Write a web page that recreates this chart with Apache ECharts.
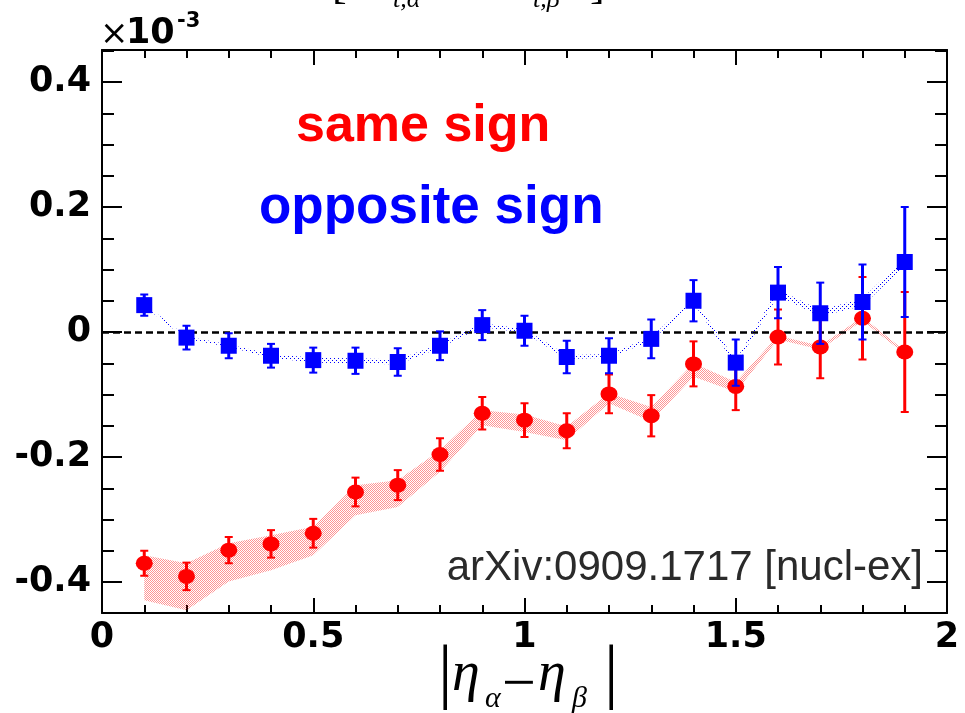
<!DOCTYPE html>
<html>
<head>
<meta charset="utf-8">
<script src="https://cdn.jsdelivr.net/npm/echarts@6/dist/echarts.min.js"></script>
<style>
html,body{margin:0;padding:0;background:#fff;}
#main{width:965px;height:713px;}
</style>
</head>
<body>
<div id="main"></div>
<script>
// ---- data (values in units of 1e-3) ----
const xs = [0.1,0.2,0.3,0.4,0.5,0.6,0.7,0.8,0.9,1.0,1.1,1.2,1.3,1.4,1.5,1.6,1.7,1.8,1.9];
const oppositeVals = [0.043,-0.009,-0.022,-0.038,-0.045,-0.046,-0.048,-0.022,0.011,0.002,-0.040,-0.038,-0.011,0.050,-0.049,0.063,0.030,0.048,0.112];
const oppositeErr  = [0.017,0.019,0.020,0.019,0.020,0.021,0.022,0.023,0.024,0.024,0.026,0.028,0.031,0.033,0.037,0.041,0.049,0.060,0.088];
const oppositeSys  = [0.002,0.002,0.002,0.003,0.004,0.004,0.004,0.003,0.003,0.003,0.003,0.003,0.003,0.004,0.004,0.005,0.005,0.006,0.006];
const sameVals = [-0.370,-0.391,-0.349,-0.339,-0.322,-0.256,-0.245,-0.196,-0.130,-0.141,-0.158,-0.099,-0.134,-0.051,-0.087,-0.008,-0.024,0.022,-0.032];
const sameErr  = [0.020,0.022,0.021,0.022,0.023,0.023,0.024,0.026,0.026,0.027,0.028,0.031,0.033,0.036,0.038,0.044,0.050,0.066,0.096];
const sameSysLo = [-0.429,-0.445,-0.399,-0.381,-0.357,-0.293,-0.280,-0.2235,-0.149,-0.160,-0.173,-0.114,-0.143,-0.0715,-0.0955,-0.012,-0.028,0.018,-0.035];
const sameSysHi = [-0.357,-0.370,-0.338,-0.325,-0.3115,-0.245,-0.237,-0.189,-0.125,-0.132,-0.151,-0.098,-0.120,-0.050,-0.080,-0.006,-0.022,0.024,-0.030];
const yMajorTicks = [-0.4,-0.2,0,0.2,0.4];
const yMinorTicks = [-0.45,-0.35,-0.3,-0.25,-0.15,-0.1,-0.05,0.05,0.1,0.15,0.25,0.3,0.35,0.45];
const yMin = -0.4496, yMax = 0.4512;

function makePattern(color, pts, size){
  const c = document.createElement('canvas');
  c.width = size; c.height = size;
  const ctx = c.getContext('2d');
  ctx.fillStyle = color;
  pts.forEach(p => ctx.fillRect(p[0], p[1], 1, 1));
  return {image: c, repeat: 'repeat'};
}
const redPattern = makePattern('rgba(255,0,0,0.42)', [[0,0],[1,1]], 2);
const bluePattern = makePattern('#0000ff', [[0,0],[2,2]], 4);

function bandSeries(lo, hi, fill, z){
  return {
    type: 'custom', xAxisIndex: 0, yAxisIndex: 0, z: z, clip: true, silent: true,
    data: xs.map((x,i)=>[x, lo[i], hi[i]]),
    renderItem: function(params, api){
      if (params.dataIndex !== 0) return null;
      const pts = [];
      for (let i=0;i<xs.length;i++) pts.push(api.coord([xs[i], hi[i]]));
      for (let i=xs.length-1;i>=0;i--) pts.push(api.coord([xs[i], lo[i]]));
      return {type:'polygon', shape:{points: pts}, style:{fill: fill, stroke: null}};
    }
  };
}
function errSeries(vals, errs, color, z){
  return {
    type: 'custom', xAxisIndex: 0, yAxisIndex: 0, z: z, clip: true, silent: true,
    data: xs.map((x,i)=>[x, vals[i], errs[i]]),
    renderItem: function(params, api){
      const x = api.value(0), v = api.value(1), e = api.value(2);
      const top = api.coord([x, v+e]), bot = api.coord([x, v-e]);
      const st = {stroke: color, lineWidth: 3};
      const cw = 4;
      return {type:'group', children:[
        {type:'line', shape:{x1:top[0], y1:top[1], x2:bot[0], y2:bot[1]}, style:st},
        {type:'line', shape:{x1:top[0]-cw, y1:top[1], x2:top[0]+cw, y2:top[1]}, style:{stroke:color, lineWidth:2}},
        {type:'line', shape:{x1:bot[0]-cw, y1:bot[1], x2:bot[0]+cw, y2:bot[1]}, style:{stroke:color, lineWidth:2}}
      ]};
    }
  };
}
const oppLo = oppositeVals.map((v,i)=>v-oppositeSys[i]);
const oppHi = oppositeVals.map((v,i)=>v+oppositeSys[i]);

const tickLine = {color:'#000', width:2};
const labelFont = {fontFamily:'DejaVu Sans', fontWeight:'bold', fontSize:35, color:'#000'};

const chart = echarts.init(document.getElementById('main'), null, {renderer:'canvas'});
chart.setOption({
  animation: false,
  backgroundColor: '#fff',
  grid: {left:102, right:18, top:50, bottom:100},
  xAxis: [
    {type:'value', min:0, max:2, interval:0.5, position:'bottom',
     axisLine:{show:true, onZero:false, lineStyle:tickLine},
     axisTick:{show:true, inside:true, length:15, lineStyle:tickLine},
     minorTick:{show:true, splitNumber:5, length:8, lineStyle:tickLine},
     splitLine:{show:false},
     axisLabel:Object.assign({margin:7}, labelFont)},
    {type:'value', min:0, max:2, interval:0.5, position:'top',
     axisLine:{show:true, onZero:false, lineStyle:tickLine},
     axisTick:{show:true, inside:true, length:15, lineStyle:tickLine},
     minorTick:{show:true, splitNumber:5, length:8, lineStyle:tickLine},
     splitLine:{show:false}, axisLabel:{show:false}}
  ],
  yAxis: [
    {type:'value', min:yMin, max:yMax, position:'left',
     axisLine:{show:true, onZero:false, lineStyle:tickLine},
     axisTick:{show:true, inside:true, length:20, customValues:yMajorTicks, lineStyle:tickLine},
     splitLine:{show:false},
     axisLabel:Object.assign({margin:11, customValues:yMajorTicks}, labelFont)},
    {type:'value', min:yMin, max:yMax, position:'right',
     axisLine:{show:true, onZero:false, lineStyle:tickLine},
     axisTick:{show:true, inside:true, length:20, customValues:yMajorTicks, lineStyle:tickLine},
     splitLine:{show:false}, axisLabel:{show:false}},
    {type:'value', min:yMin, max:yMax, position:'left',
     axisLine:{show:false, onZero:false},
     axisTick:{show:true, inside:true, length:12, customValues:yMinorTicks, lineStyle:tickLine},
     splitLine:{show:false}, axisLabel:{show:false}},
    {type:'value', min:yMin, max:yMax, position:'right',
     axisLine:{show:false, onZero:false},
     axisTick:{show:true, inside:true, length:12, customValues:yMinorTicks, lineStyle:tickLine},
     splitLine:{show:false}, axisLabel:{show:false}}
  ],
  series: [
    bandSeries(sameSysLo, sameSysHi, redPattern, 1),
    errSeries(sameVals, sameErr, '#ff0000', 3),
    {type:'scatter', name:'same sign', xAxisIndex:0, yAxisIndex:0, z:4, symbol:'circle', symbolSize:[17,15],
     itemStyle:{color:'#ff0000', opacity:1}, data: xs.map((x,i)=>[x, sameVals[i]])},
    bandSeries(oppLo, oppHi, bluePattern, 5),
    errSeries(oppositeVals, oppositeErr, '#0000ff', 6),
    {type:'scatter', name:'opposite sign', xAxisIndex:0, yAxisIndex:0, z:7, symbol:'rect', symbolSize:16,
     itemStyle:{color:'#0000ff', opacity:1}, data: xs.map((x,i)=>[x, oppositeVals[i]]),
     markLine:{silent:true, symbol:'none', label:{show:false}, z:2,
       lineStyle:{color:'#000', width:2.5, type:[7,4]}, data:[{yAxis:0}]}}
  ],
  graphic: [
    {type:'text', left:296, top:101, z:20, style:{text:'same sign', font:'bold 52px "Liberation Sans"', fill:'#ff0000'}},
    {type:'text', left:259, top:182, z:20, style:{text:'opposite sign', font:'bold 53px "Liberation Sans"', fill:'#0000ff'}},
    {type:'text', right:42, top:547, z:20, style:{text:'arXiv:0909.1717 [nucl-ex]', font:'42px "Liberation Sans"', fill:'#2a2a2a'}},
    {type:'text', left:100, top:18, z:20, style:{text:'\u00d7', font:'34px "DejaVu Sans"', fill:'#000'}},
    {type:'text', left:126, top:16, z:20, style:{text:'10', font:'bold 35px "DejaVu Sans"', fill:'#000'}},
    {type:'text', left:177, top:11, z:20, style:{text:'-3', font:'bold 21px "DejaVu Sans"', fill:'#000'}},
    // x-axis title |eta_alpha - eta_beta|
    {type:'text', left:438, top:640, z:20, style:{text:'|', font:'72px "Liberation Serif"', fill:'#000'}},
    {type:'text', left:452, top:647, z:20, style:{text:'\u03b7', font:'italic 56px "Liberation Serif"', fill:'#000'}},
    {type:'text', left:485, top:684, z:20, style:{text:'\u03b1', font:'italic 30px "Liberation Serif"', fill:'#000'}},
    {type:'text', left:502, top:656, z:20, style:{text:'\u2212', font:'60px "Liberation Serif"', fill:'#000'}},
    {type:'text', left:538, top:647, z:20, style:{text:'\u03b7', font:'italic 56px "Liberation Serif"', fill:'#000'}},
    {type:'text', left:572, top:684, z:20, style:{text:'\u03b2', font:'italic 30px "Liberation Serif"', fill:'#000'}},
    {type:'text', left:604, top:640, z:20, style:{text:'|', font:'72px "Liberation Serif"', fill:'#000'}},
    // clipped title at the very top
    {type:'text', left:332, top:-36, z:20, style:{text:'[\u0394P', font:'44px "Liberation Serif"', fill:'#000'}},
    {type:'text', left:393, top:-13, z:20, style:{text:'t,\u03b1', font:'italic 26px "Liberation Serif"', fill:'#000'}},
    {type:'text', left:450, top:-36, z:20, style:{text:'\u2212 \u0394P', font:'44px "Liberation Serif"', fill:'#000'}},
    {type:'text', left:533, top:-13, z:20, style:{text:'t,\u03b2', font:'italic 26px "Liberation Serif"', fill:'#000'}},
    {type:'text', left:590, top:-36, z:20, style:{text:']', font:'44px "Liberation Serif"', fill:'#000'}}
  ]
});
</script>
</body>
</html>
